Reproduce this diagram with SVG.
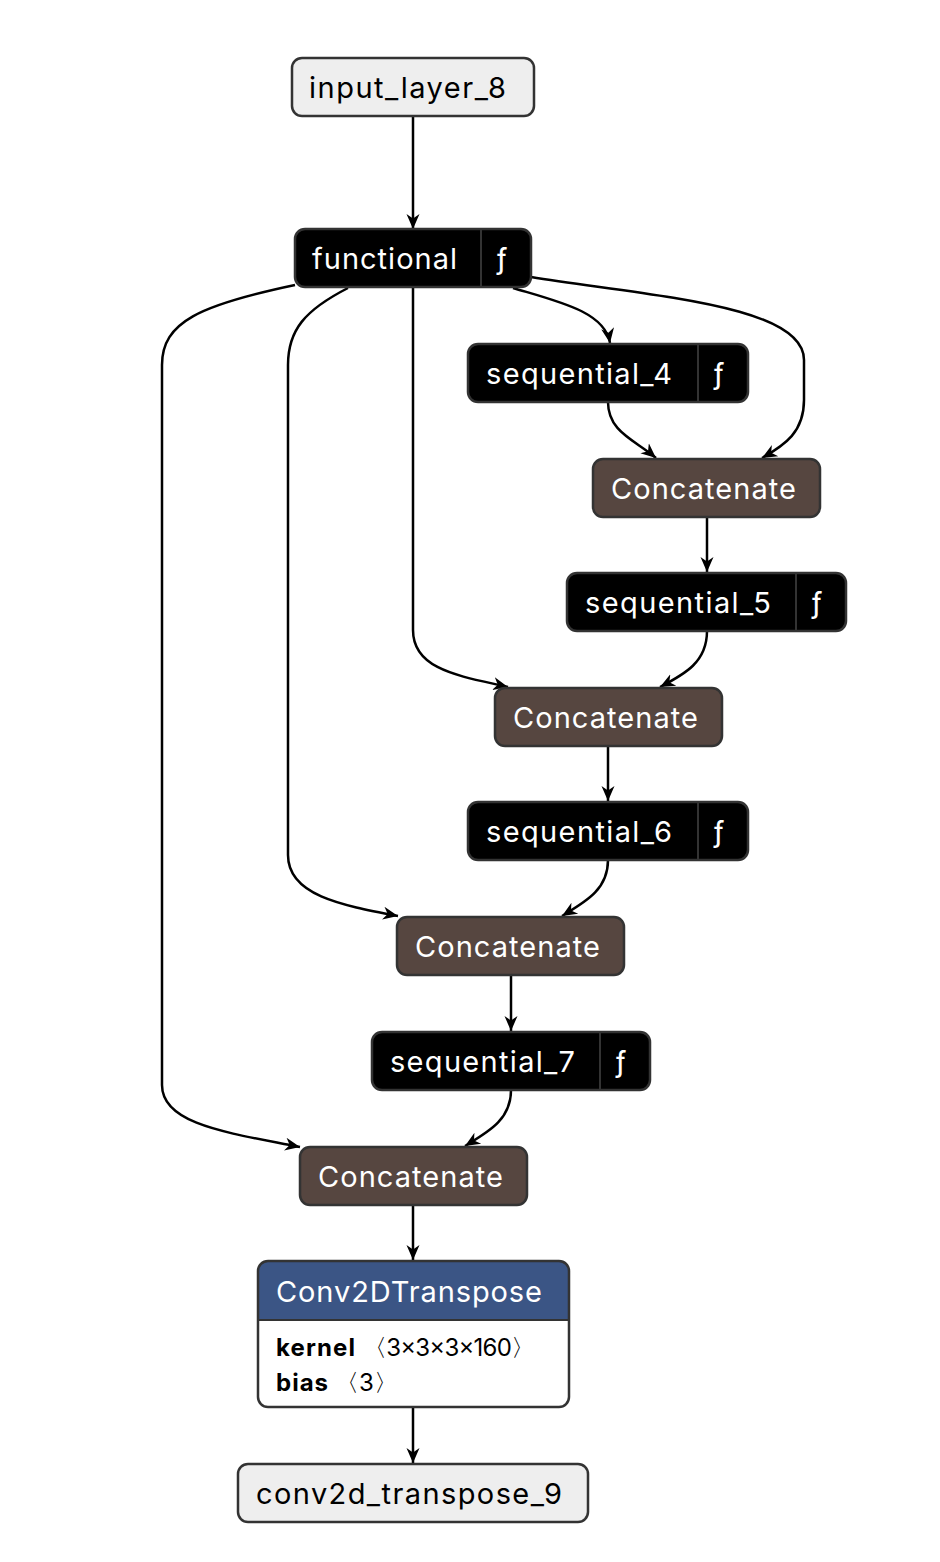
<svg xmlns="http://www.w3.org/2000/svg" width="940" height="1562" viewBox="0 0 940 1562">
<style>
text{font-family:Inter,"Noto Sans","Liberation Sans",sans-serif;font-size:29px}
.in{fill:#eeeeee;stroke:#333;stroke-width:2.5}
.fn{fill:#000;stroke:#333;stroke-width:2.5}
.cc{fill:#564640;stroke:#333;stroke-width:2.5}
.w{fill:#fff}
.k{fill:#000}
.e{fill:none;stroke:#000;stroke-width:2.5;marker-end:url(#a)}
.div{stroke:#333;stroke-width:2}
.p{font-size:24px}
</style>
<defs>
<marker id="a" markerUnits="userSpaceOnUse" markerWidth="16" markerHeight="16" viewBox="0 0 16 16" refX="15" refY="8" orient="auto">
<path d="M0,1.5 L15,8 L0,14.5 L4.5,8 z" fill="#000"/>
</marker>
</defs>
<g id="edges">
<path class="e" d="M413,116 L413,229"/>
<path class="e" d="M513,288 C560,302 605,312 610,343"/>
<path class="e" d="M531,277 C650,296 804,305 804,360 L804,400 C804,432 785,445 762,458"/>
<path class="e" d="M608,402 C608,432 635,440 656,458"/>
<path class="e" d="M707,517 L707,572"/>
<path class="e" d="M413,288 L413,630 C413,670 460,676 508,687"/>
<path class="e" d="M707,631 C707,662 685,674 660,687"/>
<path class="e" d="M608,746 L608,801"/>
<path class="e" d="M348,288 C305,310 288,330 288,365 L288,855 C288,895 340,905 398,916"/>
<path class="e" d="M608,860 C608,890 585,902 562,916"/>
<path class="e" d="M511,975 L511,1031"/>
<path class="e" d="M295,285 C200,305 162,322 162,365 L162,1085 C162,1125 230,1133 300,1147"/>
<path class="e" d="M511,1090 C511,1120 488,1132 465,1146"/>
<path class="e" d="M413,1205 L413,1260"/>
<path class="e" d="M413,1407 L413,1463"/>
</g>
<g id="input_layer_8">
<rect class="in" x="292" y="58" width="242" height="58" rx="10"/>
<text class="k" x="309" y="98" textLength="197" lengthAdjust="spacing">input_layer_8</text>
</g>
<g id="functional">
<rect class="fn" x="295" y="229" width="236" height="58" rx="10"/>
<line class="div" x1="481" y1="230" x2="481" y2="286"/>
<text class="w" x="312" y="269" textLength="145" lengthAdjust="spacing">functional</text>
<text class="w" x="496" y="269">ƒ</text>
</g>
<g id="sequential_4">
<rect class="fn" x="468" y="344" width="280" height="58" rx="10"/>
<line class="div" x1="698" y1="345" x2="698" y2="401"/>
<text class="w" x="486" y="384" textLength="186" lengthAdjust="spacing">sequential_4</text>
<text class="w" x="713" y="384">ƒ</text>
</g>
<g id="concatenate_1">
<rect class="cc" x="593" y="459" width="227" height="58" rx="10"/>
<text class="w" x="611" y="499" textLength="185" lengthAdjust="spacing">Concatenate</text>
</g>
<g id="sequential_5">
<rect class="fn" x="567" y="573" width="279" height="58" rx="10"/>
<line class="div" x1="796" y1="574" x2="796" y2="630"/>
<text class="w" x="585" y="613" textLength="186" lengthAdjust="spacing">sequential_5</text>
<text class="w" x="811" y="613">ƒ</text>
</g>
<g id="concatenate_2">
<rect class="cc" x="495" y="688" width="227" height="58" rx="10"/>
<text class="w" x="513" y="728" textLength="185" lengthAdjust="spacing">Concatenate</text>
</g>
<g id="sequential_6">
<rect class="fn" x="468" y="802" width="280" height="58" rx="10"/>
<line class="div" x1="698" y1="803" x2="698" y2="859"/>
<text class="w" x="486" y="842" textLength="186" lengthAdjust="spacing">sequential_6</text>
<text class="w" x="713" y="842">ƒ</text>
</g>
<g id="concatenate_3">
<rect class="cc" x="397" y="917" width="227" height="58" rx="10"/>
<text class="w" x="415" y="957" textLength="185" lengthAdjust="spacing">Concatenate</text>
</g>
<g id="sequential_7">
<rect class="fn" x="372" y="1032" width="278" height="58" rx="10"/>
<line class="div" x1="600" y1="1033" x2="600" y2="1089"/>
<text class="w" x="390" y="1072" textLength="185" lengthAdjust="spacing">sequential_7</text>
<text class="w" x="615" y="1072">ƒ</text>
</g>
<g id="concatenate_4">
<rect class="cc" x="300" y="1147" width="227" height="58" rx="10"/>
<text class="w" x="318" y="1187" textLength="185" lengthAdjust="spacing">Concatenate</text>
</g>
<g id="conv2d_transpose">
<path d="M268,1261 H559 A10,10 0 0 1 569,1271 V1320 H258 V1271 A10,10 0 0 1 268,1261 Z" fill="#3b5585"/>
<path d="M258,1320 H569 V1397 A10,10 0 0 1 559,1407 H268 A10,10 0 0 1 258,1397 Z" fill="#fff"/>
<rect x="258" y="1261" width="311" height="146" rx="10" fill="none" stroke="#333" stroke-width="2.5"/>
<line x1="258" y1="1320" x2="569" y2="1320" stroke="#333" stroke-width="2"/>
<text class="w" x="276" y="1302" textLength="266" lengthAdjust="spacing">Conv2DTranspose</text>
<text class="k p" x="276" y="1356"><tspan font-weight="bold" textLength="79" lengthAdjust="spacing">kernel</tspan><tspan x="363" textLength="172" lengthAdjust="spacing">〈3×3×3×160〉</tspan></text>
<text class="k p" x="276" y="1391"><tspan font-weight="bold" textLength="52" lengthAdjust="spacing">bias</tspan><tspan x="335">〈3〉</tspan></text>
</g>
<g id="conv2d_transpose_9">
<rect class="in" x="238" y="1464" width="350" height="58" rx="10"/>
<text class="k" x="256" y="1504" textLength="306" lengthAdjust="spacing">conv2d_transpose_9</text>
</g>
</svg>
